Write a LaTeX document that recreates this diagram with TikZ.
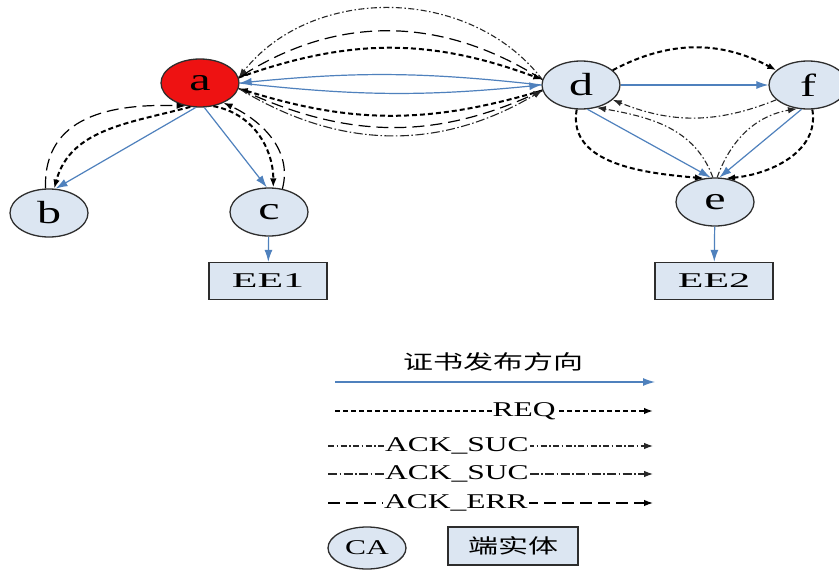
\documentclass[tikz,border=0pt]{standalone}
\usepackage{fontspec}
\setmainfont{Liberation Serif}[FakeStretch=1.5]
\newfontfamily\eefont{Liberation Serif}[FakeStretch=2.0]
\newfontfamily\cjk{Noto Sans CJK SC}[FakeStretch=1.5]
\usetikzlibrary{shapes.geometric,arrows.meta}

\definecolor{lineblue}{RGB}{79,129,189}
\definecolor{nodefill}{RGB}{220,230,242}
\definecolor{rootred}{RGB}{238,18,18}
\definecolor{rim}{RGB}{45,45,45}

\tikzset{>={Latex[length=9pt,width=6.5pt]}}
\tikzset{
  ca/.style={ellipse,draw=rim,line width=1.3pt,fill=nodefill,minimum width=78pt,
    minimum height=48pt,inner sep=0pt,font=\fontsize{32}{32}\selectfont},
  ee/.style={rectangle,draw=rim,line width=1.3pt,fill=nodefill,minimum width=118pt,
    minimum height=37pt,inner sep=0pt,font=\eefont\fontsize{21}{21}\selectfont},
  issueline/.style={-{Latex[length=12pt,width=8pt]},draw=lineblue,line width=1.2pt},
  reqline/.style={->,draw=black,line width=2pt,dash pattern=on 5pt off 3pt},
  errline/.style={->,draw=black,line width=1.2pt,dash pattern=on 12pt off 6pt},
  sucline/.style={->,draw=black!85,line width=1.1pt,dash pattern=on 6pt off 2.5pt on 1.5pt off 2.5pt},
  suclineb/.style={->,draw=black!85,line width=1.1pt,dash pattern=on 9pt off 2.5pt on 1.5pt off 2.5pt},
  lgd/.style={fill=white,inner sep=1pt,font=\fontsize{21}{21}\selectfont}
}

\begin{document}
\begin{tikzpicture}[x=1pt,y=-1pt]
  \clip (0,0) rectangle (839,570);
  \fill[white] (0,0) rectangle (839,570);

  \node[ca,fill=rootred] (a) at (200,83) {a};
  \node[ca] (b) at (49,213) {b};
  \node[ca] (c) at (269,212) {c};
  \node[ca] (d) at (581,85) {d};
  \node[ca] (f) at (808,85) {f};
  \node[ca] (e) at (715,202) {e};
  \node[ee] (ee1) at (268,281) {EE1};
  \node[ee] (ee2) at (714,281) {EE2};

  % issuing
  \draw[issueline] (a.-100) -- (b.75);
  \draw[issueline] (a.-80) -- (c.95);
  \draw[issueline] (c) -- (ee1);
  \draw[issueline] (e) -- (ee2);
  \draw[issueline] (d.east) -- (f.west);
  \draw[issueline] (d.-75) -- (e.100);
  \draw[issueline] (f.-105) -- (e.80);
  \draw[issueline] (d.west) to[bend right=6] (a.east);
  \draw[issueline] (a.east) to[bend right=6] (d.west);

  % a <-> b, a <-> c
  \draw[reqline] (a.-112) to[out=195,in=75] (b.78);
  \draw[errline] (b.98) to[out=92,in=178,looseness=1.15] (a.-122);
  \draw[reqline] (a.-60) to[out=-10,in=90] (c.80);
  \draw[errline] (c.60) to[out=75,in=-25] (a.-40);

  % a <-> d
  \draw[reqline] (a.8) to[bend left=20] (d.172);
  \draw[errline] (d.172) to[bend right=32] (a.8);
  \draw[sucline] (d.172) to[bend right=52] (a.8);
  \draw[reqline] (d.-172) to[bend left=17] (a.-8);
  \draw[errline] (a.-8) to[bend right=25] (d.-172);
  \draw[suclineb] (a.-8) to[bend right=31] (d.-172);

  % d, e, f
  \draw[reqline] (d.25) to[bend left=28] (f.155);
  \draw[sucline] (f.-155) to[bend left=22] (d.-25);
  \draw[reqline] (d.-100) to[out=-100,in=175] (e.115);
  \draw[sucline] (e.95) to[out=110,in=-10] (d.-55);
  \draw[reqline] (f.-80) to[out=-80,in=5] (e.65);
  \draw[sucline] (e.85) to[out=70,in=190] (f.-115);

  % legend
  \node[font=\cjk\fontsize{20}{20}\selectfont] (title) at (493,362) {证书发布方向};
  \coordinate (l1a) at (335,382); \coordinate (l1b) at (655,382);
  \coordinate (l2a) at (335,411); \coordinate (l2b) at (653,411);
  \coordinate (l3a) at (328,446); \coordinate (l3b) at (653,446);
  \coordinate (l4a) at (328,474); \coordinate (l4b) at (653,474);
  \coordinate (l5a) at (328,503); \coordinate (l5b) at (653,503);
  \draw[issueline] (l1a) -- (l1b);
  \draw[reqline,line width=1.5pt] (l2a) -- (l2b);
  \draw[sucline] (l3a) -- (l3b);
  \draw[suclineb] (l4a) -- (l4b);
  \draw[errline] (l5a) -- (l5b);
  \node[lgd] (t2) at (524,411) {REQ};
  \node[lgd] (t3) at (457,446) {ACK\_SUC};
  \node[lgd] (t4) at (457,474) {ACK\_SUC};
  \node[lgd] (t5) at (456,503) {ACK\_ERR};
  \node[ca,minimum height=42pt,font=\fontsize{21}{21}\selectfont] (calgd) at (367,548) {CA};
  \node[ee,minimum width=130pt,minimum height=38pt,font=\cjk\fontsize{20}{20}\selectfont] (eelgd) at (513,546) {端实体};
\end{tikzpicture}
\end{document}
